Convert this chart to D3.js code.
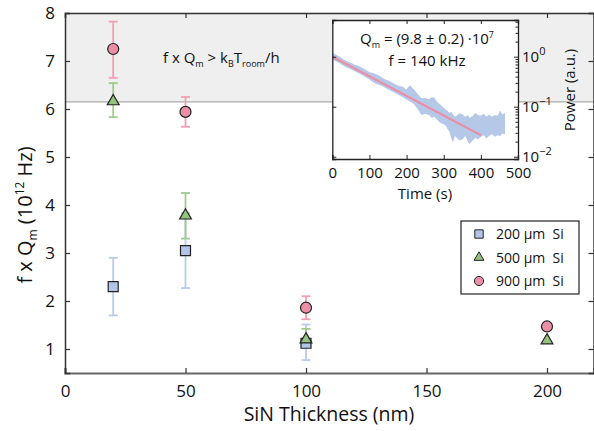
<!DOCTYPE html>
<html><head><meta charset="utf-8">
<script src="https://cdn.jsdelivr.net/npm/d3@7"></script>
<style>body{margin:0;background:#fff}svg{display:block;font-family:"Open Sans",sans-serif}</style>
</head><body><svg id="c" width="594" height="431"></svg>
<script>
// ---- main data ----
const thickness = [20, 50, 100, 200];
const s200 = [2.30, 3.05, 1.12, null];
const s200Lo = [1.70, 2.27, 0.77, null];
const s200Hi = [2.90, 3.83, 1.51, null];
const s500 = [6.18, 3.80, 1.22, 1.20];
const s500Lo = [5.83, 3.30, 1.05, null];
const s500Hi = [6.54, 4.25, 1.42, null];
const s900 = [7.25, 5.94, 1.86, 1.47];
const s900Lo = [6.65, 5.63, 1.62, 1.42];
const s900Hi = [7.82, 6.25, 2.10, 1.53];
const thermalLimit = 6.15;
const xTicks = [0, 50, 100, 150, 200];
const yTicks = [1, 2, 3, 4, 5, 6, 7, 8];
const seriesNames = ["200 µm  Si", "500 µm  Si", "900 µm  Si"];
// ---- inset data (ringdown envelope) ----
const insetTime = [0,5,10,20,30,40,50,60,70,80,90,100,110,120,130,140,150,160,170,180,190,200,205,210,215,220,230,240,250,260,268,275,282,290,298,305,310,315,320,325,330,335,342,350,358,365,370,378,385,392,400,408,415,422,430,438,445,452,458,465];
const insetUpper = [1.20,1.15,1.10,1.00,0.89,0.81,0.76,0.69,0.66,0.60,0.55,0.49,0.47,0.44,0.40,0.36,0.34,0.31,0.28,0.26,0.25,0.22,0.25,0.27,0.24,0.22,0.18,0.148,0.150,0.141,0.155,0.151,0.125,0.112,0.098,0.089,0.083,0.076,0.078,0.071,0.063,0.066,0.074,0.071,0.063,0.068,0.060,0.065,0.076,0.068,0.066,0.072,0.063,0.070,0.063,0.068,0.066,0.083,0.070,0.076];
const insetLower = [0.87,0.84,0.81,0.74,0.66,0.60,0.56,0.51,0.47,0.43,0.39,0.35,0.31,0.28,0.27,0.245,0.22,0.204,0.185,0.170,0.155,0.138,0.132,0.126,0.12,0.112,0.09,0.068,0.072,0.068,0.060,0.063,0.055,0.048,0.045,0.042,0.036,0.032,0.024,0.019,0.026,0.024,0.021,0.022,0.026,0.020,0.018,0.021,0.024,0.022,0.025,0.027,0.023,0.026,0.028,0.025,0.027,0.026,0.029,0.028];
const fitTime = [0, 400];
const fitPower = [1.0, 0.027];
const insetXTicks = [0, 100, 200, 300, 400, 500];
const insetYTicks = [1, 0.1, 0.01];
const insetYLabels = ["0", "−1", "−2"];
const insetMinorTicks = [0.02,0.03,0.04,0.05,0.06,0.07,0.08,0.09,0.2,0.3,0.4,0.5,0.6,0.7,0.8,0.9,2,3,4,5];

const colors = {blue:"#b3c6e7", green:"#93c47d", pink:"#ea8fa6"};
const errColors = {blue:"#b8cbea", green:"#9dcd8a", pink:"#f09fb2"};

const svg = d3.select("#c");
const x = d3.scaleLinear().domain([0, 219.5]).range([65, 594]);
const y = d3.scaleLinear().domain([0.5, 8]).range([373, 13]);

// shaded region
svg.append("rect").attr("x", x(0)).attr("y", y(8)).attr("width", x(219.5)-x(0)).attr("height", y(thermalLimit)-y(8)).attr("fill", "#efefef");
svg.append("line").attr("x1", x(0)).attr("x2", x(219.5)).attr("y1", y(thermalLimit)).attr("y2", y(thermalLimit)).attr("stroke", "#aaa").attr("stroke-width", 1.2);

// axes
const axisCol = "#333";
const gx = svg.append("g").attr("transform", `translate(0,${y(0.5)})`)
  .call(d3.axisBottom(x).tickValues(xTicks).tickSize(-5).tickPadding(12).tickFormat(d3.format("d")));
const gxt = svg.append("g").attr("transform", `translate(0,${y(8)})`)
  .call(d3.axisTop(x).tickValues(xTicks).tickSize(-5).tickFormat(""));
const gy = svg.append("g").attr("transform", `translate(${x(0)},0)`)
  .call(d3.axisLeft(y).tickValues(yTicks).tickSize(-5).tickPadding(10).tickFormat(d3.format("d")));
const gyr = svg.append("g").attr("transform", `translate(${x(219.5)-0.5},0)`)
  .call(d3.axisRight(y).tickValues(yTicks).tickSize(-5).tickFormat(""));
[gx, gxt, gy, gyr].forEach(g => {
  g.select(".domain").attr("stroke", axisCol).attr("stroke-width", 1.5);
  g.selectAll(".tick line").attr("stroke", axisCol).attr("stroke-width", 1.2);
  g.selectAll("text").attr("font-size", 17).attr("fill", "#111").attr("font-family", "Open Sans");
});
gx.select(".domain").attr("stroke", "#666").attr("stroke-width", 2.2);
gy.select(".domain").attr("stroke", "#333");

// axis titles
svg.append("text").attr("x", 329).attr("y", 421).attr("text-anchor", "middle").attr("font-size", 19.5).attr("fill", "#111").text("SiN Thickness (nm)");
const yt = svg.append("text").attr("transform", "translate(32,215) rotate(-90)").attr("text-anchor", "middle").attr("font-size", 20).attr("fill", "#111");
yt.append("tspan").text("f x Q");
yt.append("tspan").attr("font-size", 12).attr("dy", 5).text("m");
yt.append("tspan").attr("dy", -5).text(" (10");
yt.append("tspan").attr("font-size", 12).attr("dy", -8).text("12");
yt.append("tspan").attr("dy", 8).text(" Hz)");

// annotation
const an = svg.append("text").attr("x", 163).attr("y", 63).attr("font-size", 15).attr("fill", "#111");
an.append("tspan").text("f x Q");
an.append("tspan").attr("font-size", 9).attr("dy", 4).text("m");
an.append("tspan").attr("dy", -4).text(" > k");
an.append("tspan").attr("font-size", 9).attr("dy", 4).text("B");
an.append("tspan").attr("dy", -4).text("T");
an.append("tspan").attr("font-size", 9).attr("dy", 4).text("room");
an.append("tspan").attr("dy", -4).text("/h");

// data
const series = [
  {v:s200, lo:s200Lo, hi:s200Hi, c:"blue", shape:d3.symbolSquare, size:100},
  {v:s500, lo:s500Lo, hi:s500Hi, c:"green", shape:d3.symbolTriangle, size:60},
  {v:s900, lo:s900Lo, hi:s900Hi, c:"pink", shape:d3.symbolCircle, size:95}
];
series.forEach(s => {
  const g = svg.append("g").attr("stroke", errColors[s.c]).attr("stroke-width", 1.8);
  thickness.forEach((t, i) => {
    if (s.lo[i] == null) return;
    g.append("line").attr("x1", x(t)).attr("x2", x(t)).attr("y1", y(s.lo[i])).attr("y2", y(s.hi[i]));
    [s.lo[i], s.hi[i]].forEach(v => g.append("line").attr("x1", x(t)-4.5).attr("x2", x(t)+4.5).attr("y1", y(v)).attr("y2", y(v)));
  });
});
series.forEach(s => {
  thickness.forEach((t, i) => {
    if (s.v[i] == null) return;
    svg.append("path").attr("d", d3.symbol().type(s.shape).size(s.size)())
      .attr("transform", `translate(${x(t)},${y(s.v[i]) + (s.shape === d3.symbolTriangle ? 1 : 0)})`)
      .attr("fill", colors[s.c]).attr("stroke", "#222").attr("stroke-width", 1.2);
  });
});

// legend
const lg = svg.append("g");
lg.append("rect").attr("x", 461).attr("y", 221).attr("width", 118).attr("height", 73).attr("fill", "#fff").attr("stroke", "#222").attr("stroke-width", 1.2);
series.forEach((s, i) => {
  const yy = 234 + i * 23.5;
  lg.append("path").attr("d", d3.symbol().type(s.shape).size(s.size * 0.7)()).attr("transform", `translate(479,${yy})`)
    .attr("fill", colors[s.c]).attr("stroke", "#222").attr("stroke-width", 1);
  lg.append("text").attr("x", 496).attr("y", yy + 5).attr("font-size", 14).attr("fill", "#111").attr("xml:space", "preserve").style("white-space", "pre").text(seriesNames[i]);
});

// ---- inset ----
const ix = d3.scaleLinear().domain([0, 500]).range([332.3, 518]);
const iy = d3.scaleLog().domain([Math.pow(10, -2.046), Math.pow(10, 0.734)]).range([159, 20]);
svg.append("rect").attr("x", 332.3).attr("y", 20).attr("width", 518-332.3).attr("height", 139).attr("fill", "#fff");
const envelope = insetTime.map((t, i) => ({t, hi: insetUpper[i], lo: insetLower[i]}));
svg.append("path").datum(envelope)
  .attr("d", d3.area().x(d => ix(d.t)).y0(d => iy(d.lo)).y1(d => iy(d.hi)).curve(d3.curveLinear))
  .attr("fill", "#b6c8e8");
svg.append("path").datum(fitTime.map((t, i) => ({t, p: fitPower[i]})))
  .attr("d", d3.line().x(d => ix(d.t)).y(d => iy(d.p)))
  .attr("stroke", "#ea8ea5").attr("stroke-width", 2.2).attr("fill", "none");
const ig1 = svg.append("g").attr("transform", "translate(0,159)")
  .call(d3.axisBottom(ix).tickValues(insetXTicks).tickSize(-4).tickPadding(8).tickFormat(d3.format("d")));
const ig2 = svg.append("g").attr("transform", "translate(0,20)")
  .call(d3.axisTop(ix).tickValues(insetXTicks).tickSize(-4).tickFormat(""));
const ig3 = svg.append("g").attr("transform", "translate(518,0)")
  .call(d3.axisRight(iy).tickValues(insetYTicks).tickSize(-4).tickFormat(""));
const ig3m = svg.append("g").attr("transform", "translate(518,0)")
  .call(d3.axisRight(iy).tickValues(insetMinorTicks).tickSize(-2.5).tickFormat(""));
ig3m.select(".domain").remove();
const ig4 = svg.append("g").attr("transform", "translate(332.3,0)")
  .call(d3.axisLeft(iy).tickValues(insetYTicks).tickSize(-4).tickFormat(""));
[ig1, ig2, ig3, ig4, ig3m].forEach(g => {
  g.select(".domain").attr("stroke", "#222").attr("stroke-width", 1.3);
  g.selectAll(".tick line").attr("stroke", "#222");
  g.selectAll("text").attr("font-size", 15).attr("fill", "#111").attr("font-family", "Open Sans");
});
insetYTicks.forEach((v, i) => {
  const t = svg.append("text").attr("x", 522).attr("y", iy(v) + 5).attr("font-size", 15).attr("fill", "#111");
  t.append("tspan").text("10");
  t.append("tspan").attr("font-size", 11).attr("dy", -7).text(insetYLabels[i]);
});
svg.append("text").attr("x", 425).attr("y", 199).attr("text-anchor", "middle").attr("font-size", 15).attr("fill", "#111").text("Time (s)");
svg.append("text").attr("transform", "translate(575,90) rotate(-90)").attr("text-anchor", "middle").attr("font-size", 15).attr("fill", "#111").text("Power (a.u.)");
const q = svg.append("text").attr("x", 427).attr("y", 44).attr("text-anchor", "middle").attr("font-size", 15).attr("fill", "#111");
q.append("tspan").text("Q");
q.append("tspan").attr("font-size", 9).attr("dy", 4).text("m");
q.append("tspan").attr("dy", -4).text(" = (9.8 ± 0.2) ·10");
q.append("tspan").attr("font-size", 9).attr("dy", -6).text("7");
svg.append("text").attr("x", 427).attr("y", 66).attr("text-anchor", "middle").attr("font-size", 15).attr("fill", "#111").text("f = 140 kHz");
</script></body></html>
